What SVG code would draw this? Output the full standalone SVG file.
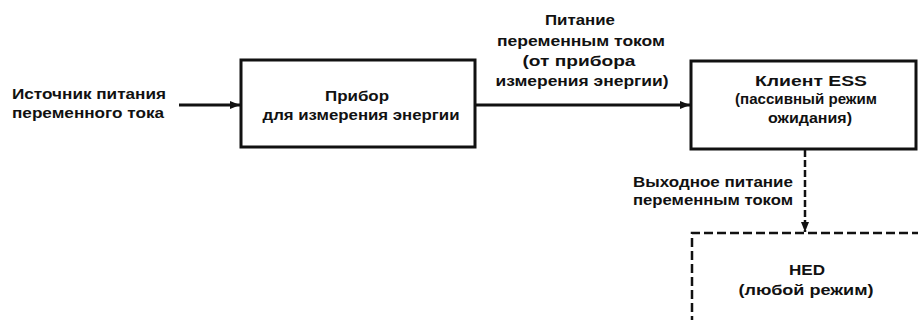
<svg xmlns="http://www.w3.org/2000/svg" width="918" height="320" viewBox="0 0 918 320">
<style>
text{font-family:"Liberation Sans",Arial,sans-serif;font-weight:bold;font-size:14px;fill:#111}
.box{fill:#fff;stroke:#111;stroke-width:3}
.dbox{fill:none;stroke:#111;stroke-width:2.5;stroke-dasharray:9 4}
.ln{stroke:#111;stroke-width:3;fill:none}
.dl{stroke:#111;stroke-width:2.5;fill:none;stroke-dasharray:7 3}
.m{text-anchor:middle}
</style>
<defs>
<marker id="ah" viewBox="0 0 10 10" refX="10" refY="5" markerWidth="10" markerHeight="10" markerUnits="userSpaceOnUse" orient="auto">
<path d="M0,1 L10,5 L0,9 Z" fill="#111"/>
</marker>
</defs>
<rect width="918" height="320" fill="#fff"/>
<g id="connectors">
<line class="ln" x1="179" y1="105" x2="240" y2="105" marker-end="url(#ah)"/>
<line class="ln" x1="476" y1="105" x2="690" y2="105" marker-end="url(#ah)"/>
<line class="dl" x1="805" y1="150" x2="805" y2="232" marker-end="url(#ah)"/>
<text class="m" x="580" y="25" textLength="70" lengthAdjust="spacingAndGlyphs">Питание</text>
<text class="m" x="581" y="46" textLength="168" lengthAdjust="spacingAndGlyphs">переменным током</text>
<text class="m" x="579" y="66" textLength="113" lengthAdjust="spacingAndGlyphs">(от прибора</text>
<text class="m" x="582" y="86" textLength="173" lengthAdjust="spacingAndGlyphs">измерения энергии)</text>
<text x="633" y="187" textLength="160" lengthAdjust="spacingAndGlyphs">Выходное питание</text>
<text x="633" y="205" textLength="160" lengthAdjust="spacingAndGlyphs">переменным током</text>
</g>
<g id="source">
<text x="12" y="99" textLength="154" lengthAdjust="spacingAndGlyphs">Источник питания</text>
<text x="12" y="118" textLength="152" lengthAdjust="spacingAndGlyphs">переменного тока</text>
</g>
<g id="meter">
<rect class="box" x="241" y="60" width="234" height="87"/>
<text class="m" x="357" y="101" textLength="64" lengthAdjust="spacingAndGlyphs">Прибор</text>
<text class="m" x="361" y="120" textLength="197" lengthAdjust="spacingAndGlyphs">для измерения энергии</text>
</g>
<g id="ess">
<rect class="box" x="691" y="61" width="225" height="88"/>
<text class="m" x="811" y="86" textLength="112" lengthAdjust="spacingAndGlyphs">Клиент ESS</text>
<text class="m" x="806" y="104" textLength="142" lengthAdjust="spacingAndGlyphs">(пассивный режим</text>
<text class="m" x="810" y="123" textLength="84" lengthAdjust="spacingAndGlyphs">ожидания)</text>
</g>
<g id="hed">
<path class="dbox" d="M692,325 L692,233 L925,233"/>
<text class="m" x="807" y="275" textLength="36" lengthAdjust="spacingAndGlyphs">HED</text>
<text class="m" x="806" y="295" textLength="135" lengthAdjust="spacingAndGlyphs">(любой режим)</text>
</g>
</svg>
